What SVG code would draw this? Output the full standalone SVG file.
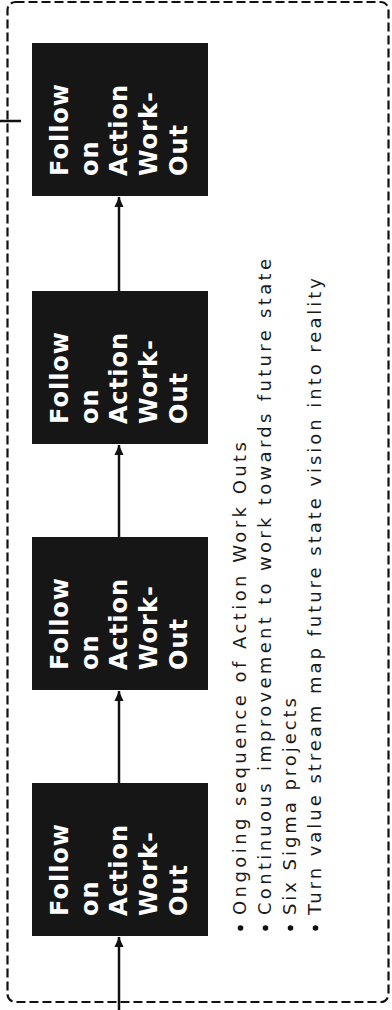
<svg xmlns="http://www.w3.org/2000/svg" width="392" height="1010" viewBox="0 0 392 1010">
  <defs>
    <style>
      .box { fill: #161616; }
      .boxtxt { font-family: "DejaVu Sans", "Liberation Sans", sans-serif; font-weight: bold; font-size: 24px; fill: #ffffff; letter-spacing: 1px; }
      .conn { stroke: #111; stroke-width: 2.5; fill: none; }
      .bul { font-family: "DejaVu Sans", "Liberation Sans", sans-serif; font-size: 18px; fill: #1a1a1a; }
      .frame { fill: none; stroke: #111; stroke-width: 2.2; stroke-dasharray: 9 4; }
    </style>
    <marker id="arr" markerUnits="userSpaceOnUse" markerWidth="10" markerHeight="10" refX="10" refY="5" orient="auto">
      <path d="M0,0.5 L10,5 L0,9.5 z" fill="#111"/>
    </marker>
  </defs>

  <rect class="frame" x="7.5" y="2" width="381" height="1000" rx="8" ry="8"/>

  <g id="connectors">
    <line class="conn" x1="119" y1="1010" x2="119" y2="937" marker-end="url(#arr)"/>
    <line class="conn" x1="119" y1="783" x2="119" y2="691" marker-end="url(#arr)"/>
    <line class="conn" x1="119" y1="537" x2="119" y2="445" marker-end="url(#arr)"/>
    <line class="conn" x1="119" y1="291" x2="119" y2="197" marker-end="url(#arr)"/>
    <line class="conn" x1="0" y1="121" x2="21" y2="121" stroke-width="3"/>
  </g>

  <g id="node1">
    <rect class="box" x="32" y="43" width="176" height="153"/>
    <text class="boxtxt" transform="translate(68,176) rotate(-90)">
      <tspan x="0" y="0">Follow</tspan>
      <tspan x="0" y="29.7">on</tspan>
      <tspan x="0" y="59.4">Action</tspan>
      <tspan x="0" y="89.1">Work-</tspan>
      <tspan x="0" y="118.8">Out</tspan>
    </text>
  </g>

  <g id="node2">
    <rect class="box" x="32" y="291" width="176" height="153"/>
    <text class="boxtxt" transform="translate(68,424) rotate(-90)">
      <tspan x="0" y="0">Follow</tspan>
      <tspan x="0" y="29.7">on</tspan>
      <tspan x="0" y="59.4">Action</tspan>
      <tspan x="0" y="89.1">Work-</tspan>
      <tspan x="0" y="118.8">Out</tspan>
    </text>
  </g>

  <g id="node3">
    <rect class="box" x="32" y="537" width="176" height="153"/>
    <text class="boxtxt" transform="translate(68,670) rotate(-90)">
      <tspan x="0" y="0">Follow</tspan>
      <tspan x="0" y="29.7">on</tspan>
      <tspan x="0" y="59.4">Action</tspan>
      <tspan x="0" y="89.1">Work-</tspan>
      <tspan x="0" y="118.8">Out</tspan>
    </text>
  </g>

  <g id="node4">
    <rect class="box" x="32" y="783" width="176" height="153"/>
    <text class="boxtxt" transform="translate(68,916) rotate(-90)">
      <tspan x="0" y="0">Follow</tspan>
      <tspan x="0" y="29.7">on</tspan>
      <tspan x="0" y="59.4">Action</tspan>
      <tspan x="0" y="89.1">Work-</tspan>
      <tspan x="0" y="118.8">Out</tspan>
    </text>
  </g>

  <g id="bullets">
    <circle cx="240.5" cy="928" r="2.8" fill="#111"/>
    <circle cx="265.5" cy="928" r="2.8" fill="#111"/>
    <circle cx="290.5" cy="928" r="2.8" fill="#111"/>
    <circle cx="315.5" cy="928" r="2.8" fill="#111"/>
    <text class="bul" transform="translate(246,915) rotate(-90)" x="0" y="0" textLength="473" lengthAdjust="spacing">Ongoing sequence of Action Work Outs</text>
    <text class="bul" transform="translate(271,915) rotate(-90)" x="0" y="0" textLength="656" lengthAdjust="spacing">Continuous improvement to work towards future state</text>
    <text class="bul" transform="translate(296,915) rotate(-90)" x="0" y="0" textLength="217" lengthAdjust="spacing">Six Sigma projects</text>
    <text class="bul" transform="translate(321,915) rotate(-90)" x="0" y="0" textLength="637" lengthAdjust="spacing">Turn value stream map future state vision into reality</text>
  </g>
</svg>
